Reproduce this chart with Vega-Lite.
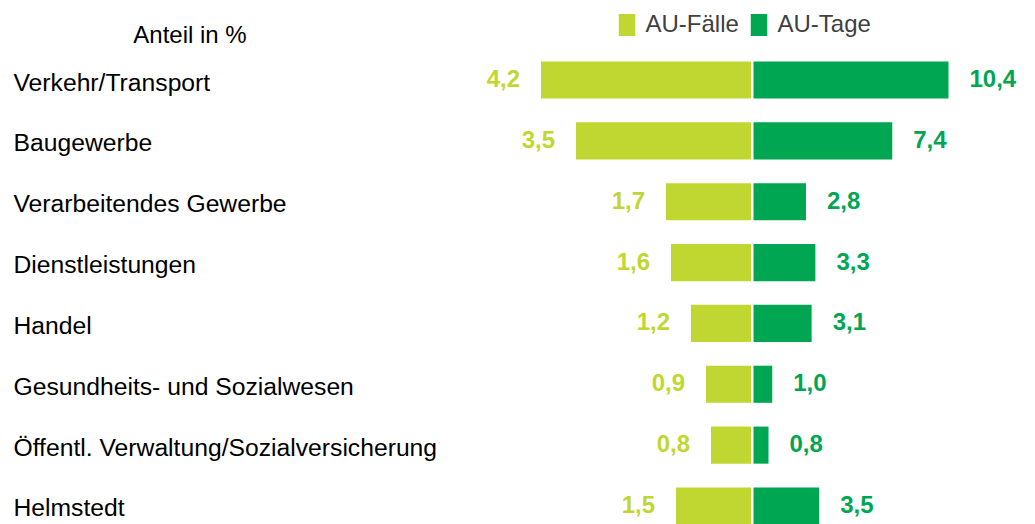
{
  "$schema": "https://vega.github.io/schema/vega-lite/v6.json",
  "autosize": {"type": "none"},
  "padding": {"left": 450, "top": 61.5, "right": 0, "bottom": 0},
  "width": 585,
  "height": 463,
  "background": "white",
  "config": {
    "view": {"stroke": null},
    "font": "Liberation Sans",
    "locale": {"number": {"decimal": ",", "thousands": ".", "grouping": [3], "currency": ["", " €"]}}
  },
  "data": {
    "values": [
      {"branche": "Verkehr/Transport", "kennzahl": "AU-Fälle", "wert": 4.2},
      {"branche": "Verkehr/Transport", "kennzahl": "AU-Tage", "wert": 10.4},
      {"branche": "Baugewerbe", "kennzahl": "AU-Fälle", "wert": 3.5},
      {"branche": "Baugewerbe", "kennzahl": "AU-Tage", "wert": 7.4},
      {"branche": "Verarbeitendes Gewerbe", "kennzahl": "AU-Fälle", "wert": 1.7},
      {"branche": "Verarbeitendes Gewerbe", "kennzahl": "AU-Tage", "wert": 2.8},
      {"branche": "Dienstleistungen", "kennzahl": "AU-Fälle", "wert": 1.6},
      {"branche": "Dienstleistungen", "kennzahl": "AU-Tage", "wert": 3.3},
      {"branche": "Handel", "kennzahl": "AU-Fälle", "wert": 1.2},
      {"branche": "Handel", "kennzahl": "AU-Tage", "wert": 3.1},
      {"branche": "Gesundheits- und Sozialwesen", "kennzahl": "AU-Fälle", "wert": 0.9},
      {"branche": "Gesundheits- und Sozialwesen", "kennzahl": "AU-Tage", "wert": 1.0},
      {"branche": "Öffentl. Verwaltung/Sozialversicherung", "kennzahl": "AU-Fälle", "wert": 0.8},
      {"branche": "Öffentl. Verwaltung/Sozialversicherung", "kennzahl": "AU-Tage", "wert": 0.8},
      {"branche": "Helmstedt", "kennzahl": "AU-Fälle", "wert": 1.5},
      {"branche": "Helmstedt", "kennzahl": "AU-Tage", "wert": 3.5}
    ]
  },
  "encoding": {
    "y": {
      "field": "branche",
      "type": "nominal",
      "sort": null,
      "scale": {"paddingInner": 0.39, "paddingOuter": 0},
      "axis": {
        "title": "Anteil in %",
        "titleAngle": 0,
        "titleX": -260.5,
        "titleY": -18.8,
        "titleAlign": "center",
        "titleBaseline": "alphabetic",
        "titleFontSize": 24,
        "titleFontWeight": "normal",
        "titleFont": "Liberation Sans",
        "titleColor": "#000000",
        "labelAlign": "left",
        "labelBaseline": "alphabetic",
        "labelOffset": 10.5,
        "labelPadding": 437,
        "ticks": false,
        "tickSize": 0,
        "domain": false,
        "grid": false,
        "labelFontSize": 24.7,
        "labelFont": "Liberation Sans",
        "labelColor": "#000000",
        "labelLimit": 1000
      }
    }
  },
  "layer": [
    {
      "transform": [{"filter": "datum.kennzahl === 'AU-Fälle'"}],
      "encoding": {
        "x": {
          "field": "wert",
          "type": "quantitative",
          "scale": {"domain": [-5.68, 6.02], "reverse": true, "nice": false, "zero": false},
          "axis": null
        }
      },
      "layer": [
        {
          "mark": {"type": "bar"},
          "encoding": {
            "color": {
              "field": "kennzahl",
              "type": "nominal",
              "scale": {"domain": ["AU-Fälle", "AU-Tage"], "range": ["#BFD730", "#00A651"]},
              "legend": {
                "title": null,
                "orient": "none",
                "legendX": 165,
                "legendY": -48.5,
                "direction": "horizontal",
                "padding": 0,
                "symbolType": "M-0.75,-1H0.75V1H-0.75Z",
                "symbolSize": 484,
                "symbolStrokeWidth": 0,
                "symbolOpacity": 1,
                "labelFontSize": 24,
                "labelFont": "Liberation Sans",
                "labelColor": "#404040",
                "labelOffset": 6.5,
                "columnPadding": 8,
                "labelLimit": 300
              }
            }
          }
        },
        {
          "mark": {"type": "text", "align": "right", "baseline": "middle", "dx": -21, "fontSize": 24, "fontWeight": "bold", "font": "Liberation Sans", "color": "#BFD730"},
          "encoding": {"text": {"field": "wert", "type": "quantitative", "format": ".1f"}}
        }
      ]
    },
    {
      "transform": [{"filter": "datum.kennzahl === 'AU-Tage'"}],
      "encoding": {
        "x": {
          "field": "wert",
          "type": "quantitative",
          "scale": {"domain": [-16.187, 15.013], "nice": false, "zero": false},
          "axis": null
        }
      },
      "layer": [
        {
          "mark": {"type": "bar"},
          "encoding": {
            "color": {"field": "kennzahl", "type": "nominal"}
          }
        },
        {
          "mark": {"type": "text", "align": "left", "baseline": "middle", "dx": 21, "fontSize": 24, "fontWeight": "bold", "font": "Liberation Sans", "color": "#00A651"},
          "encoding": {"text": {"field": "wert", "type": "quantitative", "format": ".1f"}}
        }
      ]
    }
  ],
  "resolve": {"scale": {"x": "independent"}}
}
